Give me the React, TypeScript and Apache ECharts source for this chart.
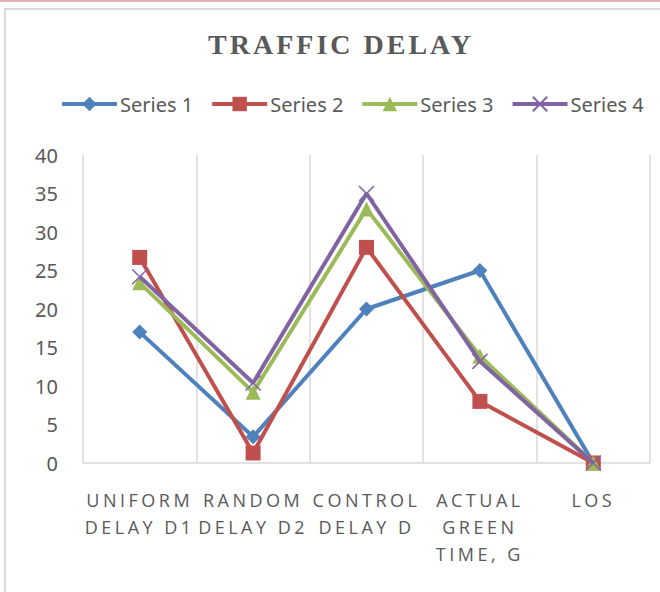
import React, { useEffect, useRef } from "react";
import * as echarts from "echarts";

const categories = ["UNIFORM\nDELAY D1", "RANDOM\nDELAY D2", "CONTROL\nDELAY D", "ACTUAL\nGREEN\nTIME, G", "LOS"];
const series1 = [17, 3.4, 20, 25, 0];
const series2 = [26.7, 1.3, 28, 8, 0];
const series3 = [23.4, 9.2, 33, 13.9, 0];
const series4 = [24.2, 10.4, 35, 13.2, 0];
const seriesNames = ["Series 1", "Series 2", "Series 3", "Series 4"];
const colors = ["#4F81BD", "#C0504D", "#9BBB59", "#8064A2"];
const symbols = ["diamond", "rect", "triangle", "path://M0 0L10 10M10 0L0 10"];
const symbolSizes = [15, 15, 15, 15];

export default function App() {
  const ref = useRef<HTMLDivElement>(null);
  useEffect(() => {
    if (!ref.current) return;
    const chart = echarts.init(ref.current, undefined, { renderer: "svg" });
    const data = [series1, series2, series3, series4];
    chart.setOption({
      animation: false,
      backgroundColor: "#ffffff",
      title: {
        text: "TRAFFIC DELAY",
        left: 336,
        top: 25,
        textAlign: "center",
        textStyle: {
          fontFamily: "Liberation Serif",
          fontWeight: "bold",
          fontSize: 28,
          color: "#595959",
        },
      },
      legend: {
        left: 55,
        top: 89,
        itemWidth: 55,
        itemHeight: 18,
        itemGap: 17,
        data: seriesNames,
        lineStyle: { width: 4 },
        textStyle: { fontFamily: "Noto Sans", fontSize: 20, color: "#595959", padding: [0, 0, 0, -2] },
      },
      grid: { left: 83, right: 10, top: 155, bottom: 129, containLabel: false },
      xAxis: {
        type: "category",
        data: categories,
        boundaryGap: true,
        axisLine: { lineStyle: { color: "#D9D9D9", width: 1.5 } },
        axisTick: { show: false },
        splitLine: { show: true, lineStyle: { color: "#D9D9D9", width: 1.5 } },
        axisLabel: {
          interval: 0,
          margin: 23,
          fontFamily: "Open Sans",
          fontSize: 18,
          lineHeight: 27,
          color: "#595959",
        },
      },
      yAxis: {
        type: "value",
        min: 0,
        max: 40,
        interval: 5,
        axisLine: { show: false },
        axisTick: { show: false },
        splitLine: { show: false },
        axisLabel: { margin: 25, fontFamily: "Noto Sans", fontSize: 20, color: "#595959" },
      },
      graphic: [
        { type: "rect", shape: { x: 0, y: 0, width: 660, height: 2 }, style: { fill: "#E8B0B0" }, silent: true },
        {
          type: "rect",
          shape: { x: 5, y: 9, width: 700, height: 700 },
          style: { fill: "none", stroke: "#D9D9D9", lineWidth: 2 },
          silent: true,
        },
      ],
      series: data.map((d, i) => ({
        name: seriesNames[i],
        type: "line",
        data: d,
        symbol: symbols[i],
        symbolSize: symbolSizes[i],
        showAllSymbol: true,
        lineStyle: { color: colors[i], width: 4 },
        itemStyle: {
          color: colors[i],
          borderColor: i === 3 ? colors[i] : undefined,
          borderWidth: i === 3 ? 1.5 : 0,
        },
        z: 2 + i,
      })),
    });
    return () => chart.dispose();
  }, []);
  return (
    <>
      <style>{`
        .tdchart text[style*="Liberation Serif"] { letter-spacing: 3px; }
        .tdchart text[style*="Open Sans"] { letter-spacing: 3.5px; }
      `}</style>
      <div
        ref={ref}
        className="tdchart"
        style={{ position: "fixed", left: 0, top: 0, width: 660, height: 592 }}
      />
    </>
  );
}
